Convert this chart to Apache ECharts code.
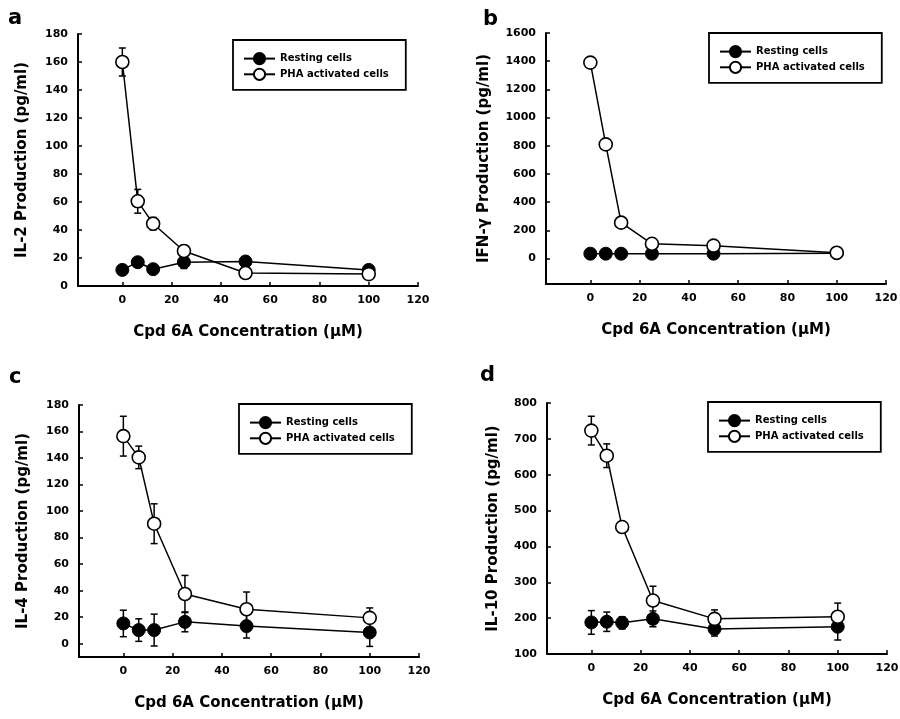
<!DOCTYPE html>
<html>
<head>
<meta charset="utf-8">
<script src="https://cdn.jsdelivr.net/npm/echarts@6/dist/echarts.min.js"></script>
<style>
html,body{margin:0;padding:0;background:#fff;}
#main{width:900px;height:719px;}
</style>
</head>
<body>
<div id="main"></div>
<script>
// ---- data ----
var concentrations = [0, 6.25, 12.5, 25, 50, 100];
var xTicks = [0, 20, 40, 60, 80, 100, 120];

var il2Resting = [11.5, 17, 12, 17, 17.5, 11.5];
var il2RestingErr = [1, 2, 1, 4.5, 2, 1];
var il2Pha = [160, 60.5, 44.5, 25, 9.3, 8.5];
var il2PhaErr = [10, 8.5, 4.5, 4, 1, 3];
var il2Ticks = [0, 20, 40, 60, 80, 100, 120, 140, 160, 180];

var ifnResting = [35, 35, 35, 35, 35, 38];
var ifnPha = [1390, 810, 255, 105, 92, 42];
var ifnTicks = [0, 200, 400, 600, 800, 1000, 1200, 1400, 1600];

var il4Resting = [15.3, 10.3, 10.3, 16.5, 13.3, 8.5];
var il4RestingErr = [10, 8.5, 12, 7.5, 9, 10.5];
var il4Pha = [156.5, 140.5, 90.5, 37.5, 26, 19.5];
var il4PhaErr = [15, 8.5, 15, 14, 13, 7.5];
var il4Ticks = [0, 20, 40, 60, 80, 100, 120, 140, 160, 180];

var il10Resting = [188, 190, 187, 198, 170, 176];
var il10RestingErr = [33, 27, 17, 22, 20, 37];
var il10Pha = [723, 653, 454, 249, 198, 204];
var il10PhaErr = [40, 33, 15, 40, 25, 38];
var il10Ticks = [100, 200, 300, 400, 500, 600, 700, 800];

var seriesNames = ['Resting cells', 'PHA activated cells'];
var panelLetters = ['a', 'b', 'c', 'd'];
var yTitles = ['IL-2 Production (pg/ml)', 'IFN-\u03b3 Production (pg/ml)', 'IL-4 Production (pg/ml)', 'IL-10 Production (pg/ml)'];
var xTitle = 'Cpd 6A Concentration (\u03bcM)';

// ---- layout ----
var FONT = 'DejaVu Sans';
var panels = [
  {grid:{left:78, top:34, width:340, height:252}, yMin:0, yMax:180, yTicks:il2Ticks, yGap:48,
   rest:il2Resting, restErr:il2RestingErr, pha:il2Pha, phaErr:il2PhaErr, legend:{left:233, top:40}},
  {grid:{left:546, top:33, width:340, height:251}, yMin:-180, yMax:1600, yTicks:ifnTicks, yGap:54,
   rest:ifnResting, restErr:null, pha:ifnPha, phaErr:null, legend:{left:709, top:33}},
  {grid:{left:79, top:405, width:340, height:252}, yMin:-10, yMax:180, yTicks:il4Ticks, yGap:48,
   rest:il4Resting, restErr:il4RestingErr, pha:il4Pha, phaErr:il4PhaErr, legend:{left:239, top:404}},
  {grid:{left:547, top:403, width:340, height:251}, yMin:100, yMax:800, yTicks:il10Ticks, yGap:46,
   rest:il10Resting, restErr:il10RestingErr, pha:il10Pha, phaErr:il10PhaErr, legend:{left:708, top:402}}
];
var letterPos = [[8,18.7],[483,19.5],[9,378],[480,376]];

function pairs(xs, ys) { return xs.map(function(x, i){ return [x, ys[i]]; }); }
function plain(v) { return String(v); }

function errSeries(idx, ys, es) {
  return {
    type: 'custom', name: 'err', xAxisIndex: idx, yAxisIndex: idx, z: 1,
    silent: true,
    data: concentrations.map(function(x, i){ return [x, ys[i], es[i]]; }),
    renderItem: function(params, api) {
      var x = api.value(0), y = api.value(1), e = api.value(2);
      var t = api.coord([x, y + e]), b = api.coord([x, y - e]);
      var hw = 3.5, st = {stroke:'#000', lineWidth:1.5};
      return {type:'group', children:[
        {type:'line', shape:{x1:t[0], y1:t[1], x2:b[0], y2:b[1]}, style:st},
        {type:'line', shape:{x1:t[0]-hw, y1:t[1], x2:t[0]+hw, y2:t[1]}, style:st},
        {type:'line', shape:{x1:b[0]-hw, y1:b[1], x2:b[0]+hw, y2:b[1]}, style:st}
      ]};
    }
  };
}

var grids = [], xAxes = [], yAxes = [], series = [], legends = [], graphics = [];
panels.forEach(function(p, i) {
  var g = Object.assign({outerBoundsMode:'none', containLabel:false}, p.grid);
  grids.push(g);
  xAxes.push({
    gridIndex:i, type:'value', min:-18, max:120,
    axisLine:{onZero:false, lineStyle:{color:'#000', width:2}},
    axisTick:{inside:true, length:4, customValues:xTicks, lineStyle:{color:'#000', width:1.5}},
    axisLabel:{customValues:xTicks, formatter:plain, color:'#000', fontFamily:FONT, fontWeight:'bold', fontSize:11, margin:9},
    splitLine:{show:false},
    name:xTitle, nameLocation:'middle', nameGap:39,
    nameTextStyle:{color:'#000', fontFamily:FONT, fontWeight:'bold', fontSize:15}
  });
  yAxes.push({
    gridIndex:i, type:'value', min:p.yMin, max:p.yMax,
    axisLine:{show:true, onZero:false, lineStyle:{color:'#000', width:2}},
    axisTick:{show:true, inside:true, length:4, customValues:p.yTicks, lineStyle:{color:'#000', width:1.5}},
    axisLabel:{customValues:p.yTicks, formatter:plain, color:'#000', fontFamily:FONT, fontWeight:'bold', fontSize:11, margin:10},
    splitLine:{show:false},
    name:yTitles[i], nameLocation:'middle', nameGap:p.yGap,
    nameTextStyle:{color:'#000', fontFamily:FONT, fontWeight:'bold', fontSize:15}
  });
  if (p.restErr) series.push(errSeries(i, p.rest, p.restErr));
  if (p.phaErr) series.push(errSeries(i, p.pha, p.phaErr));
  series.push({
    type:'line', name:seriesNames[0], xAxisIndex:i, yAxisIndex:i, z:3,
    data:pairs(concentrations, p.rest), symbol:'circle', symbolSize:13,
    lineStyle:{color:'#000', width:1.5}, itemStyle:{color:'#000', borderColor:'#000', borderWidth:1},
    emphasis:{disabled:true}, animation:false
  });
  series.push({
    type:'line', name:seriesNames[1], xAxisIndex:i, yAxisIndex:i, z:4,
    data:pairs(concentrations, p.pha), symbol:'circle', symbolSize:13,
    lineStyle:{color:'#000', width:1.5}, itemStyle:{color:'#fff', borderColor:'#000', borderWidth:1.6},
    emphasis:{disabled:true}, animation:false
  });
  legends.push({
    left:p.legend.left, top:p.legend.top, orient:'vertical',
    data:seriesNames, selectedMode:false,
    itemWidth:31, itemHeight:14, itemGap:2.5,
    padding:[12, 17, 9, 10],
    borderColor:'#000', borderWidth:1.8, backgroundColor:'#fff',
    textStyle:{color:'#000', fontFamily:FONT, fontWeight:'bold', fontSize:10}
  });
  graphics.push({
    type:'text', x:letterPos[i][0], y:letterPos[i][1],
    style:{text:panelLetters[i], font:'bold 21px "DejaVu Sans"', fill:'#000', verticalAlign:'middle', align:'left'}
  });
});

var chart = echarts.init(document.getElementById('main'), null, {renderer:'canvas'});
chart.setOption({
  backgroundColor:'#fff',
  animation:false,
  grid:grids, xAxis:xAxes, yAxis:yAxes, series:series, legend:legends,
  graphic:graphics
});
</script>
</body>
</html>
